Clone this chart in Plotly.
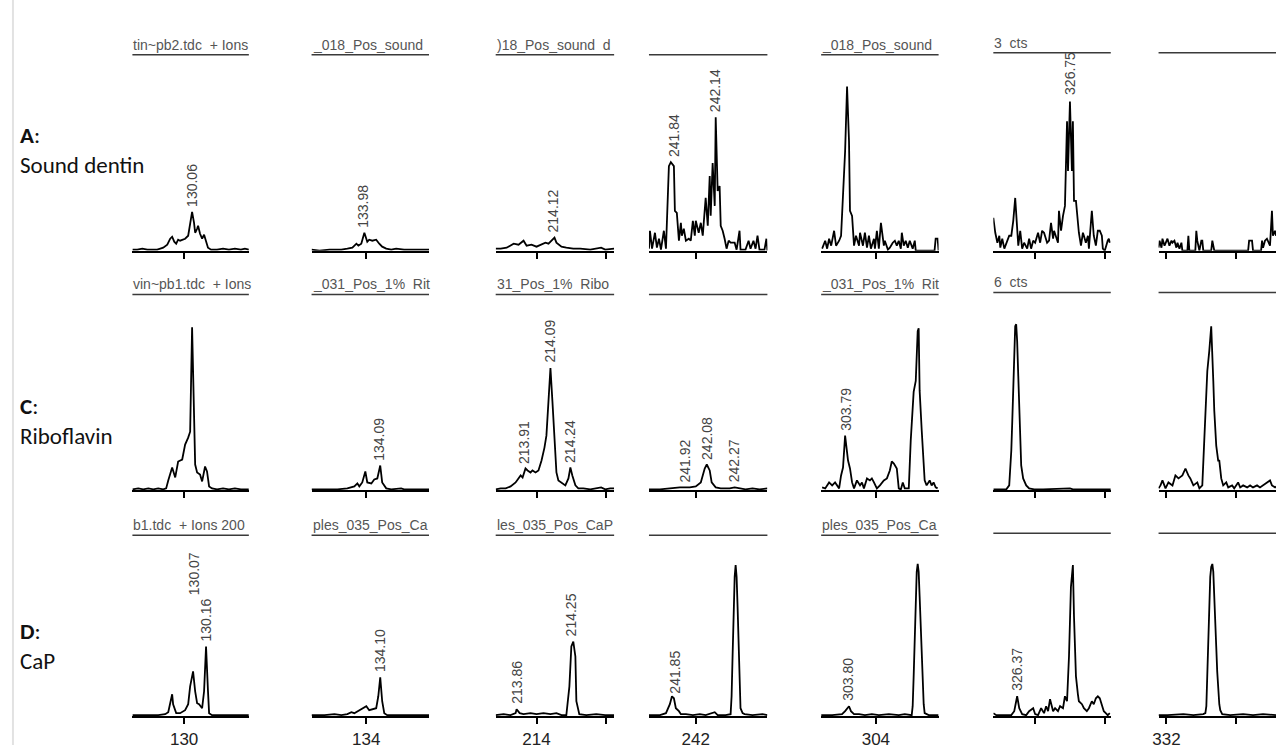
import plotly.graph_objects as go

# ---------------- data (m/z, relative intensity) ----------------
# Row A: Sound dentin
A1_mz = [129.629,129.664,129.700,129.736,129.771,129.807,129.829,129.850,129.879,129.900,129.914,129.929,129.943,129.957,129.971,129.986,130.007,130.029,130.043,130.057,130.071,130.079,130.093,130.100,130.114,130.129,130.143,130.157,130.171,130.193,130.236,130.279,130.321,130.364,130.407,130.436,130.464]
A1_int = [1,1,2,1,1,1,2,3,6,12,14,9,7,11,10,11,12,15,28,39,28,18,22,25,17,12,16,8,3,1,1,2,1,2,1,2,1]
A2_mz = [133.607,133.664,133.736,133.793,133.821,133.864,133.900,133.929,133.943,133.964,133.986,134.007,134.021,134.043,134.071,134.093,134.114,134.143,134.179,134.214,134.271,134.343,134.450]
A2_int = [1,0,1,1,1,2,3,7,5,7,18,9,11,10,11,7,4,2,1,2,1,1,1]
A3_mz = [213.707,213.743,213.786,213.836,213.871,213.907,213.929,213.964,214.000,214.036,214.064,214.086,214.129,214.143,214.179,214.214,214.264,214.314,214.386,214.464,214.493,214.557]
A3_int = [2,2,3,7,6,10,5,6,4,6,8,7,13,8,4,3,2,2,1,3,1,2]
A4_mz = [241.664,241.671,241.686,241.707,241.721,241.736,241.750,241.771,241.786,241.807,241.821,241.843,241.850,241.864,241.879,241.893,241.900,241.914,241.929,241.950,241.964,241.979,241.993,242.000,242.021,242.036,242.050,242.071,242.086,242.100,242.107,242.121,242.136,242.143,242.157,242.171,242.179,242.193,242.207,242.221,242.236,242.250,242.279,242.293,242.314,242.321,242.357,242.379,242.393,242.414,242.429,242.443,242.457,242.493,242.507,242.514]
A4_int = [2,20,2,18,3,12,1,20,2,85,89,85,40,38,10,28,15,22,10,12,10,30,15,30,18,28,15,53,25,75,35,88,45,134,60,65,25,20,12,2,10,8,8,1,20,1,1,10,2,10,2,15,1,1,12,0]
A5_mz = [303.614,303.636,303.650,303.664,303.679,303.700,303.714,303.736,303.750,303.764,303.779,303.793,303.807,303.814,303.829,303.843,303.857,303.879,303.886,303.907,303.921,303.936,303.950,303.964,303.986,303.993,304.007,304.021,304.036,304.057,304.064,304.086,304.100,304.121,304.136,304.150,304.164,304.179,304.186,304.200,304.214,304.229,304.243,304.264,304.279,304.286,304.421,304.429,304.443,304.450]
A5_int = [2,10,2,12,5,20,5,10,15,50,100,165,110,40,35,5,15,5,18,5,18,3,15,2,12,2,20,2,28,5,10,1,3,8,10,5,10,2,18,5,10,3,10,2,10,0,0,12,12,0]
A6_mz = [326.200,326.214,326.229,326.243,326.250,326.264,326.279,326.300,326.314,326.329,326.343,326.357,326.371,326.379,326.393,326.407,326.421,326.443,326.457,326.471,326.486,326.500,326.521,326.536,326.550,326.564,326.586,326.600,326.614,326.629,326.636,326.650,326.664,326.671,326.686,326.700,326.714,326.729,326.736,326.750,326.764,326.771,326.779,326.793,326.807,326.814,326.829,326.843,326.850,326.864,326.879,326.886,326.907,326.921,326.936,326.950,326.964,326.979,326.986,327.000,327.021,327.029,327.036]
A6_int = [33,18,8,15,3,12,2,10,15,15,30,53,20,5,20,2,8,2,12,2,10,8,18,8,20,18,8,10,28,12,20,15,8,40,20,35,45,130,80,150,80,130,50,50,25,18,5,18,15,8,15,2,40,15,5,20,20,15,2,0,10,12,8]
A7_mz = [331.943,331.950,331.964,331.971,331.986,332.000,332.007,332.021,332.036,332.043,332.057,332.071,332.079,332.093,332.107,332.114,332.150,332.157,332.164,332.207,332.214,332.221,332.236,332.250,332.257,332.264,332.321,332.329,332.343,332.586,332.593,332.614,332.621,332.679,332.686,332.693,332.707,332.721,332.729,332.743,332.757,332.764,332.779,332.786]
A7_int = [3,10,3,12,5,10,12,5,10,8,10,3,8,2,8,0,0,15,0,0,20,10,0,10,10,0,0,10,0,0,10,10,0,0,10,3,10,12,10,5,40,15,20,15]

# Row C: Riboflavin
C1_mz = [129.629,129.671,129.707,129.743,129.779,129.814,129.850,129.871,129.886,129.914,129.936,129.957,129.986,130.007,130.029,130.043,130.057,130.064,130.079,130.093,130.114,130.129,130.150,130.164,130.179,130.200,130.236,130.279,130.321,130.364,130.407,130.464]
C1_int = [1,2,1,2,1,2,1,2,10,23,13,29,31,46,53,59,164,123,26,18,16,9,24,19,4,2,1,2,1,2,1,1]
C2_mz = [133.607,133.700,133.793,133.864,133.914,133.936,133.950,133.971,133.993,134.007,134.036,134.057,134.079,134.100,134.114,134.143,134.179,134.250,134.271,134.450]
C2_int = [1,1,1,2,4,7,4,8,19,8,7,11,12,25,8,2,1,2,1,1]
C3_mz = [213.707,213.743,213.779,213.814,213.850,213.886,213.900,213.921,213.936,213.957,213.971,213.993,214.014,214.036,214.057,214.071,214.086,214.100,214.114,214.129,214.143,214.157,214.179,214.207,214.229,214.243,214.257,214.279,214.300,214.336,214.386,214.429,214.464,214.493,214.529,214.557]
C3_int = [1,2,2,4,8,15,13,22,20,18,20,18,20,30,43,55,90,123,90,50,18,10,8,5,12,23,15,5,2,2,1,2,3,1,2,2]
C4_mz = [241.664,241.743,241.814,241.886,241.957,242.000,242.036,242.064,242.079,242.100,242.114,242.143,242.179,242.243,242.279,242.314,242.357,242.407,242.457,242.514]
C4_int = [1,1,2,3,3,4,8,22,26,20,8,3,2,2,3,2,1,2,1,2]
C5_mz = [303.614,303.636,303.664,303.686,303.707,303.736,303.750,303.764,303.779,303.800,303.814,303.829,303.843,303.864,303.886,303.900,303.914,303.936,303.957,303.971,303.986,304.007,304.029,304.057,304.079,304.100,304.114,304.129,304.150,304.164,304.179,304.193,304.207,304.236,304.250,304.271,304.286,304.300,304.307,304.314,304.329,304.343,304.350,304.364,304.386,304.400,304.414,304.429,304.443]
C5_int = [3,2,8,5,8,2,15,23,55,30,22,8,2,10,5,8,2,12,10,12,8,2,5,10,12,20,29,27,22,2,1,8,2,2,50,99,110,160,163,100,60,25,10,5,10,5,8,3,2]
C6_mz = [326.200,326.293,326.314,326.329,326.336,326.343,326.350,326.357,326.364,326.371,326.379,326.386,326.393,326.400,326.414,326.436,326.457,326.493,326.557,326.743,326.750,326.771,327.043]
C6_int = [1,1,5,40,70,100,140,165,167,150,115,80,50,25,12,5,2,1,1,2,2,1,1]
C7_mz = [331.943,331.957,331.971,331.993,332.014,332.043,332.064,332.086,332.114,332.136,332.157,332.171,332.193,332.221,332.236,332.257,332.271,332.293,332.307,332.321,332.336,332.343,332.357,332.371,332.379,332.393,332.407,332.429,332.443,332.471,332.486,332.514,332.529,332.550,332.579,332.600,332.621,332.650,332.671,332.693,332.721,332.743,332.757,332.779,332.786]
C7_int = [2,5,10,2,8,5,15,12,15,22,15,12,5,8,2,5,50,120,140,165,110,80,45,30,30,12,5,8,3,5,2,8,3,5,3,5,3,5,3,5,8,10,5,3,4]

# Row D: CaP
D1_mz = [129.629,129.721,129.814,129.864,129.886,129.914,129.921,129.943,129.971,130.007,130.029,130.043,130.064,130.079,130.093,130.107,130.129,130.143,130.157,130.171,130.179,130.200,130.293,130.386,130.464]
D1_int = [1,1,1,2,4,22,12,3,3,6,12,30,45,25,13,12,8,25,70,25,3,1,1,1,1]
D2_mz = [133.607,133.700,133.771,133.821,133.864,133.893,133.914,133.936,133.971,134.000,134.021,134.043,134.071,134.086,134.100,134.114,134.129,134.150,134.450]
D2_int = [1,1,2,1,2,4,3,5,8,10,6,7,8,20,39,15,3,1,1]
D3_mz = [213.707,213.764,213.814,213.850,213.857,213.879,213.907,213.957,214.000,214.050,214.100,214.143,214.179,214.214,214.236,214.250,214.264,214.279,214.286,214.307,214.357,214.429,214.493,214.557]
D3_int = [1,2,1,3,7,3,2,3,2,3,2,3,1,1,30,70,75,60,15,2,1,2,1,1]
D4_mz = [241.664,241.743,241.786,241.814,241.829,241.843,241.857,241.879,241.893,241.929,241.979,242.029,242.071,242.107,242.136,242.157,242.214,242.250,242.257,242.264,242.271,242.279,242.286,242.293,242.300,242.307,242.314,242.321,242.336,242.350,242.407,242.479,242.514]
D4_int = [1,1,3,12,20,18,8,5,2,2,1,2,1,3,4,1,1,2,20,60,100,140,152,140,110,70,35,8,3,2,1,2,1]
D5_mz = [303.607,303.686,303.757,303.779,303.807,303.821,303.843,303.879,303.921,303.971,304.021,304.093,304.164,304.207,304.257,304.264,304.271,304.279,304.286,304.293,304.300,304.307,304.314,304.321,304.329,304.336,304.343,304.350,304.379,304.450]
D5_int = [1,1,2,5,10,5,2,2,1,2,1,2,1,2,1,10,40,80,120,145,153,145,120,90,60,30,12,3,1,1]
D6_mz = [326.200,326.221,326.257,326.329,326.350,326.371,326.386,326.407,326.436,326.457,326.486,326.500,326.521,326.543,326.564,326.579,326.593,326.607,326.629,326.643,326.664,326.679,326.700,326.714,326.729,326.743,326.757,326.771,326.779,326.793,326.807,326.814,326.836,326.850,326.871,326.886,326.907,326.921,326.936,326.950,326.964,326.979,326.993,327.007,327.021,327.036]
D6_int = [3,1,1,1,5,20,8,2,1,5,8,2,1,8,3,10,5,17,5,8,5,10,8,20,15,60,130,152,100,40,22,15,12,8,5,8,15,12,18,20,18,10,5,3,1,3]
D7_mz = [331.943,332.007,332.121,332.193,332.264,332.279,332.286,332.293,332.300,332.307,332.314,332.321,332.329,332.336,332.343,332.350,332.357,332.364,332.371,332.379,332.386,332.400,332.457,332.550,332.621,332.693,332.786]
D7_int = [1,1,2,1,2,3,10,40,80,115,140,150,153,145,125,100,70,45,25,12,6,2,1,2,1,2,1]

# peak labels: (text, m/z, intensity where the label sits)
A_labels = [[("130.06",130.06,39)],[("133.98",133.98,18)],[("214.12",214.12,13)],
            [("241.84",241.84,89),("242.14",242.14,134)],[],[("326.75",326.75,152)],[]]
C_labels = [[],[("134.09",134.09,25)],[("213.91",213.91,22),("214.09",214.09,123),("214.24",214.24,23)],
            [("241.92",241.92,3),("242.08",242.08,26),("242.27",242.27,3)],[("303.79",303.79,55)],[],[]]
D_labels = [[("130.07",130.07,117),("130.16",130.16,70)],[("134.10",134.10,39)],
            [("213.86",213.86,7),("214.25",214.25,75)],[("241.85",241.85,18)],[("303.80",303.80,10)],
            [("326.37",326.37,20)],[]]

# header (truncated file-name) texts
A_headers = ["tin~pb2.tdc  + Ions", "_018_Pos_sound", ")18_Pos_sound  d", "", "_018_Pos_sound", "3  cts", ""]
C_headers = ["vin~pb1.tdc  + Ions", "_031_Pos_1%  Rit", "31_Pos_1%  Ribo", "", "_031_Pos_1%  Rit", "6  cts", ""]
D_headers = ["b1.tdc  + Ions 200", "ples_035_Pos_Ca", "les_035_Pos_CaP", "", "ples_035_Pos_Ca", "", ""]

row_names = [("<b>A</b>:", "Sound dentin"), ("<b>C</b>:", "Riboflavin"), ("<b>D</b>:", "CaP")]

col_ranges = [(129.629,130.464),(133.607,134.450),(213.707,214.557),(241.664,242.514),
              (303.607,304.450),(326.200,327.043),(331.943,332.786)]
col_ticks = [[130.0],[134.0],[214.0,214.5],[242.0],[304.0],[326.5,327.0],[332.0,332.5]]
col_ticktext = [["130"],["134"],["214",""],["242"],["304"],["",""],["332",""]]

# ---------------- layout geometry (pixels) ----------------
W, H = 1276, 749
COL_PX = [(127,244),(307,425),(492,611),(646,765),(819,937),(992,1110),(1158,1276)]
ROW_PX = [(55,252),(296,493),(538,720)]      # (header line, baseline)
ROW_YMAX = [197,197,182]
HEAD_DY = [0,0,0,0,0,-2,-2]
ROW_LABEL_Y = [151, 423, 649]

spectra = [
    [(A1_mz,A1_int),(A2_mz,A2_int),(A3_mz,A3_int),(A4_mz,A4_int),(A5_mz,A5_int),(A6_mz,A6_int),(A7_mz,A7_int)],
    [(C1_mz,C1_int),(C2_mz,C2_int),(C3_mz,C3_int),(C4_mz,C4_int),(C5_mz,C5_int),(C6_mz,C6_int),(C7_mz,C7_int)],
    [(D1_mz,D1_int),(D2_mz,D2_int),(D3_mz,D3_int),(D4_mz,D4_int),(D5_mz,D5_int),(D6_mz,D6_int),(D7_mz,D7_int)],
]
labels = [A_labels, C_labels, D_labels]
headers = [A_headers, C_headers, D_headers]

SANS = "Liberation Sans, Arial, sans-serif"

fig = go.Figure()
layout = dict(width=W, height=H, margin=dict(l=0, r=0, t=0, b=0),
              paper_bgcolor="white", plot_bgcolor="white", showlegend=False)
annotations = []
shapes = []

n = 0
for r in range(3):
    head, base = ROW_PX[r]
    for c in range(7):
        n += 1
        xa = "xaxis" if n == 1 else f"xaxis{n}"
        ya = "yaxis" if n == 1 else f"yaxis{n}"
        xr = "x" if n == 1 else f"x{n}"
        yr = "y" if n == 1 else f"y{n}"
        x0, x1 = COL_PX[c]
        layout[xa] = dict(domain=[x0 / W, x1 / W], range=list(col_ranges[c]), anchor=yr,
                          showline=True, linecolor="black", linewidth=2,
                          ticks="outside", ticklen=6, tickwidth=1.5, tickcolor="black",
                          tickmode="array", tickvals=col_ticks[c],
                          ticktext=col_ticktext[c] if r == 2 else [""] * len(col_ticks[c]),
                          tickfont=dict(family=SANS, size=17, color="#222"),
                          showgrid=False, zeroline=False, fixedrange=True)
        layout[ya] = dict(domain=[1 - base / H, 1 - head / H], range=[0, ROW_YMAX[r]],
                          anchor=xr, visible=False, fixedrange=True)
        mz, it = spectra[r][c]
        fig.add_trace(go.Scatter(x=mz, y=it, xaxis=xr, yaxis=yr, mode="lines",
                                 line=dict(color="black", width=1.8), hoverinfo="skip"))
        hy = 1 - (head + HEAD_DY[c]) / H
        shapes.append(dict(type="line", xref="paper", yref="paper", x0=x0 / W, x1=x1 / W,
                           y0=hy, y1=hy, line=dict(color="#3a3a3a", width=1.5)))
        if headers[r][c]:
            annotations.append(dict(text=headers[r][c], xref="paper", yref="paper",
                                    x=x0 / W, y=hy + 1 / H, xanchor="left", yanchor="bottom",
                                    showarrow=False, borderpad=0,
                                    font=dict(family=SANS, size=14, color="#555")))
        for t, xv, yv in labels[r][c]:
            annotations.append(dict(text=t, x=xv, y=yv, xref=xr, yref=yr, showarrow=False,
                                    textangle=-90, xanchor="center", yanchor="bottom",
                                    yshift=4, borderpad=0,
                                    font=dict(family=SANS, size=14, color="#444")))

for (lab, name), yc in zip(row_names, ROW_LABEL_Y):
    annotations.append(dict(text=lab + "<br>" + name, xref="paper", yref="paper",
                            x=12 / W, y=1 - yc / H, xanchor="left", yanchor="middle",
                            align="left", showarrow=False,
                            font=dict(family="Carlito, Lato, sans-serif", size=23, color="#111")))

shapes.append(dict(type="line", xref="paper", yref="paper", x0=7 / W, x1=7 / W, y0=0, y1=1,
                   line=dict(color="#e2e2e2", width=2)))

layout["annotations"] = annotations
layout["shapes"] = shapes
fig.update_layout(**layout)
fig.write_html("out.html", config={"displayModeBar": False},
               post_script="document.body.style.margin='0px';document.body.style.overflow='hidden';")
